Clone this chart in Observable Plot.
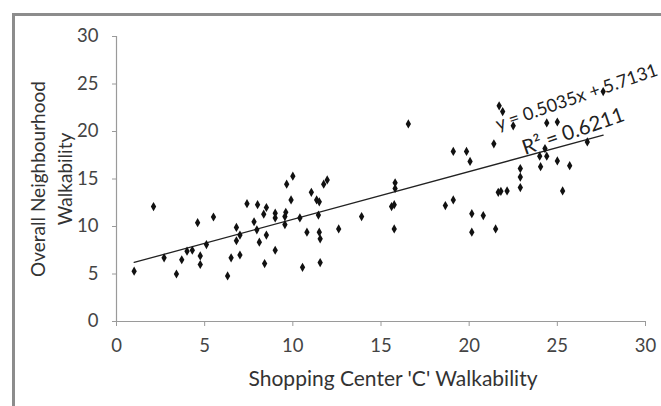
<!DOCTYPE html>
<html><head><meta charset="utf-8">
<script src="https://cdn.jsdelivr.net/npm/d3@7"></script>
<script src="https://cdn.jsdelivr.net/npm/@observablehq/plot@0.6"></script>
<style>
body{margin:0;width:661px;height:406px;overflow:hidden;background:#fff;position:relative;font-family:Lato,sans-serif}
#frame{position:absolute;left:12px;top:13px;width:700px;height:420px;border:3px solid #8c8c8c;box-sizing:border-box}
#chart{position:absolute;left:0;top:0}
</style></head><body><div id="frame"></div><div id="chart"></div>
<script>
const shoppingC = [1.0,2.1,2.7,3.4,3.7,4.0,4.3,4.6,4.75,4.75,5.1,5.5,6.3,6.5,6.8,6.8,7.0,7.0,7.4,7.8,8.0,7.96,8.1,8.35,8.4,8.5,8.5,9.0,9.0,9.0,9.55,9.6,9.55,9.65,9.9,10.0,10.4,10.55,10.8,11.05,11.35,11.5,11.45,11.5,11.55,11.55,11.75,11.95,12.6,13.9,15.6,15.75,15.75,15.8,15.8,16.55,18.65,19.1,19.1,19.85,20.05,20.15,20.15,20.8,21.4,21.5,21.65,21.7,21.9,21.8,22.15,22.5,22.9,22.9,22.9,24.0,24.05,24.3,24.4,24.4,25.0,25.0,25.3,25.7,26.7,27.6];
const overall = [5.3,12.1,6.7,5.0,6.5,7.4,7.5,10.4,6.9,6.0,8.1,11.0,4.8,6.7,9.9,8.5,7.0,9.1,12.4,10.5,12.3,9.65,8.35,11.3,6.1,12.0,9.1,11.4,10.9,7.5,11.05,11.5,10.2,14.45,12.8,15.3,10.9,5.7,9.4,13.6,12.8,12.6,11.2,9.4,8.7,6.2,14.45,14.9,9.75,11.05,12.1,12.3,9.75,14.0,14.6,20.8,12.2,12.8,17.9,17.9,16.85,11.35,9.4,11.15,18.7,9.75,13.6,22.7,22.1,13.7,13.75,20.6,16.1,15.2,14.1,17.4,16.3,18.2,17.4,20.9,21.0,16.9,13.75,16.4,18.9,24.2];
const xTicks = [0,5,10,15,20,25,30];
const yTicks = [0,5,10,15,20,25,30];
const slope = 0.5035, intercept = 5.7131;
const equationText = "y = 0.5035x + 5.7131";
const r2Text = "R² = 0.6211";
const xTitle = "Shopping Center 'C' Walkability";
const yTitleLines = ["Overall Neighbourhood", "Walkability"];

const points = shoppingC.map((x, i) => ({x, y: overall[i]}));
const xr = d3.extent(shoppingC);
const trend = xr.map(x => ({x, y: slope * x + intercept}));

const chart = Plot.plot({
  width: 661, height: 406,
  marginLeft: 116, marginRight: 16, marginTop: 36, marginBottom: 85,
  style: {fontFamily: "Lato, sans-serif", background: "transparent", overflow: "visible"},
  x: {domain: [0, 30]},
  y: {domain: [0, 30]},
  marks: [
    Plot.ruleY([0], {stroke: "#9a9a9a", strokeWidth: 1.2}),
    Plot.ruleX([0], {stroke: "#9a9a9a", strokeWidth: 1.2}),
    Plot.axisX({ticks: xTicks, tickSize: 5, tickPadding: 12, fontSize: 18.5, color: "#444", stroke: "#9a9a9a", label: null}),
    Plot.axisY({ticks: yTicks, tickSize: 4, tickPadding: 14, fontSize: 18.5, color: "#444", stroke: "#9a9a9a", label: null}),
    Plot.line(trend, {x: "x", y: "y", stroke: "#222", strokeWidth: 1.3}),
    Plot.dot(points, {x: "x", y: "y", symbol: "diamond", r: 2.8, fill: "#111", stroke: "none"}),
    Plot.text([equationText], {x: 26.1, y: 23.6, text: d => d, rotate: -19, fontSize: 18, fill: "#222"}),
    Plot.text([r2Text], {x: 25.9, y: 20.0, text: d => d, rotate: -19, fontSize: 20.5, fill: "#222"}),
    Plot.text([xTitle], {frameAnchor: "bottom", dy: 64, dx: 12, text: d => d, fontSize: 21, fill: "#333"}),
    Plot.text([yTitleLines[0]], {x: () => 0, y: () => 15, dx: -78, rotate: -90, textAnchor: "middle", text: d => d, fontSize: 19, fill: "#333"}),
    Plot.text([yTitleLines[1]], {x: () => 0, y: () => 15, dx: -51, rotate: -90, textAnchor: "middle", text: d => d, fontSize: 19, fill: "#333"})
  ]
});
document.getElementById("chart").append(chart);
</script></body></html>
